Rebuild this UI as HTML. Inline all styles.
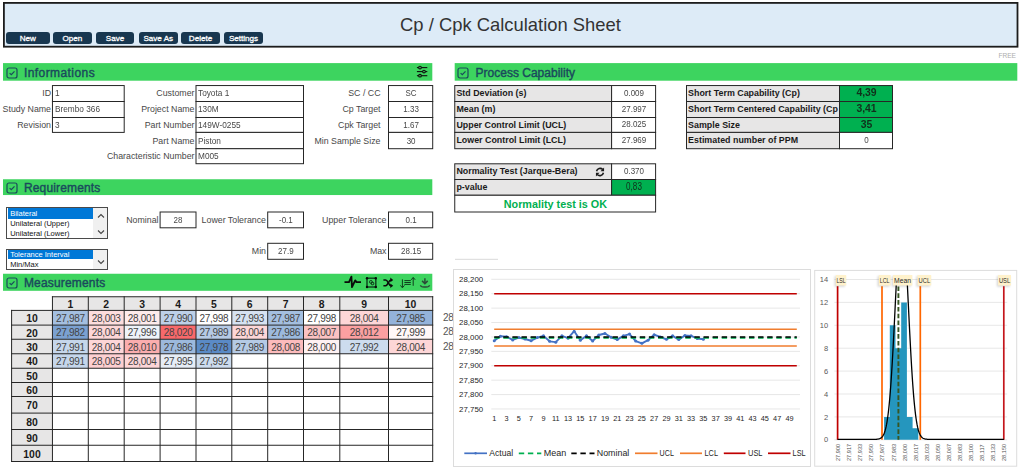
<!DOCTYPE html><html><head><meta charset="utf-8"><title>Cp / Cpk Calculation Sheet</title><style>
html,body{margin:0;padding:0;background:#fff;}
body{width:1024px;height:476px;position:relative;overflow:hidden;font-family:"Liberation Sans",sans-serif;font-size:8.8px;color:#484848;}
.a{position:absolute;box-sizing:border-box;white-space:nowrap;}
.bar{position:absolute;background:#3dd45f;}
.ttl{position:absolute;color:#1a4a5c;-webkit-text-stroke:0.4px #1a4a5c;white-space:nowrap;}
.lbl{position:absolute;text-align:right;white-space:nowrap;line-height:12px;height:12px;}
.box{position:absolute;box-sizing:border-box;border:1px solid #4a4a4a;background:#fff;}
.cell{position:absolute;white-space:nowrap;line-height:12px;height:12px;}
.btn{position:absolute;background:#183750;border-radius:3px;color:#fff;font-size:8.1px;-webkit-text-stroke:0.3px #fff;text-align:center;height:12.3px;line-height:13px;top:32px;}
.b{font-weight:bold;color:#1a1a1a;font-size:8.9px;overflow:hidden;}
.n{font-size:9.9px;text-align:center;transform:scaleX(0.81);}
.v{font-size:9.5px;transform:scaleX(0.87);transform-origin:0 50%;}
</style></head><body>
<svg class="a" style="left:0;top:0;" width="1024" height="52"><rect x="3.9" y="2.9" width="1013.6" height="43.8" fill="#ddebf7" stroke="#1c1c1c" stroke-width="1.8"/></svg>
<div class="a" style="left:400px;top:12.9px;width:221px;text-align:center;font-size:18.4px;line-height:24px;color:#333;">Cp / Cpk Calculation Sheet</div>
<div class="btn" style="left:5.5px;width:44.5px;">New</div>
<div class="btn" style="left:53.0px;width:38.6px;">Open</div>
<div class="btn" style="left:96.0px;width:38.0px;">Save</div>
<div class="btn" style="left:139.0px;width:38.5px;">Save As</div>
<div class="btn" style="left:181.0px;width:39.0px;">Delete</div>
<div class="btn" style="left:224.0px;width:39.0px;">Settings</div>
<div class="a" style="left:990px;top:50.6px;width:26px;text-align:right;font-size:6.6px;line-height:10px;color:#adadad;">FREE</div>
<svg class="a" style="left:0;top:0;" width="1024" height="476" viewBox="0 0 1024 476"><rect x="3.00" y="63.10" width="429.30" height="17.60" fill="#3dd45f"/>
<rect x="454.70" y="63.10" width="562.60" height="17.60" fill="#3dd45f"/>
<rect x="3.00" y="179.25" width="429.30" height="15.80" fill="#3dd45f"/>
<rect x="3.00" y="273.75" width="429.30" height="17.05" fill="#3dd45f"/>
<rect x="52.45" y="85.55" width="71.75" height="15.95" fill="#fff" stroke="#262626" stroke-width="1"/>
<rect x="52.45" y="101.50" width="71.75" height="16.00" fill="#fff" stroke="#262626" stroke-width="1"/>
<rect x="52.45" y="117.50" width="71.75" height="14.90" fill="#fff" stroke="#262626" stroke-width="1"/>
<rect x="196.00" y="85.55" width="107.50" height="15.95" fill="#fff" stroke="#262626" stroke-width="1"/>
<rect x="196.00" y="101.50" width="107.50" height="16.00" fill="#fff" stroke="#262626" stroke-width="1"/>
<rect x="196.00" y="117.50" width="107.50" height="14.90" fill="#fff" stroke="#262626" stroke-width="1"/>
<rect x="196.00" y="132.40" width="107.50" height="16.30" fill="#fff" stroke="#262626" stroke-width="1"/>
<rect x="196.00" y="148.70" width="107.50" height="15.00" fill="#fff" stroke="#262626" stroke-width="1"/>
<rect x="388.50" y="85.55" width="44.20" height="15.95" fill="#fff" stroke="#262626" stroke-width="1"/>
<rect x="388.50" y="101.50" width="44.20" height="16.00" fill="#fff" stroke="#262626" stroke-width="1"/>
<rect x="388.50" y="117.50" width="44.20" height="14.90" fill="#fff" stroke="#262626" stroke-width="1"/>
<rect x="388.50" y="132.40" width="44.20" height="16.30" fill="#fff" stroke="#262626" stroke-width="1"/>
<rect x="160.10" y="212.00" width="35.90" height="15.80" fill="#fff" stroke="#262626" stroke-width="1"/>
<rect x="267.70" y="212.00" width="35.80" height="15.80" fill="#fff" stroke="#262626" stroke-width="1"/>
<rect x="388.50" y="212.00" width="44.20" height="15.80" fill="#fff" stroke="#262626" stroke-width="1"/>
<rect x="267.70" y="243.30" width="35.80" height="16.00" fill="#fff" stroke="#262626" stroke-width="1"/>
<rect x="388.50" y="243.30" width="44.20" height="16.00" fill="#fff" stroke="#262626" stroke-width="1"/>
<rect x="52.45" y="296.75" width="380.25" height="13.65" fill="#e7e6e6"/>
<rect x="11.60" y="310.40" width="40.85" height="151.10" fill="#e7e6e6"/>
<rect x="52.45" y="310.40" width="35.85" height="14.70" fill="#a4bfe0"/>
<rect x="88.30" y="310.40" width="35.90" height="14.70" fill="#fddddd"/>
<rect x="124.20" y="310.40" width="35.90" height="14.70" fill="#feebeb"/>
<rect x="160.10" y="310.40" width="35.90" height="14.70" fill="#bdd0e8"/>
<rect x="196.00" y="310.40" width="35.80" height="14.70" fill="#ffffff"/>
<rect x="231.80" y="310.40" width="35.90" height="14.70" fill="#d6e2f1"/>
<rect x="267.70" y="310.40" width="35.80" height="14.70" fill="#a4bfe0"/>
<rect x="303.50" y="310.40" width="36.30" height="14.70" fill="#ffffff"/>
<rect x="339.80" y="310.40" width="48.70" height="14.70" fill="#fdd6d7"/>
<rect x="388.50" y="310.40" width="44.20" height="14.70" fill="#94b3da"/>
<rect x="52.45" y="325.10" width="35.85" height="14.15" fill="#7ba1d1"/>
<rect x="88.30" y="325.10" width="35.90" height="14.15" fill="#fdd6d7"/>
<rect x="124.20" y="325.10" width="35.90" height="14.15" fill="#eef3f9"/>
<rect x="160.10" y="325.10" width="35.90" height="14.15" fill="#f8696b"/>
<rect x="196.00" y="325.10" width="35.80" height="14.15" fill="#b5cae5"/>
<rect x="231.80" y="325.10" width="35.90" height="14.15" fill="#fdd6d7"/>
<rect x="267.70" y="325.10" width="35.80" height="14.15" fill="#9cb9dd"/>
<rect x="303.50" y="325.10" width="36.30" height="14.15" fill="#fcc2c2"/>
<rect x="339.80" y="325.10" width="48.70" height="14.15" fill="#fba0a1"/>
<rect x="388.50" y="325.10" width="44.20" height="14.15" fill="#fff8f8"/>
<rect x="52.45" y="339.25" width="35.85" height="14.50" fill="#c5d6eb"/>
<rect x="88.30" y="339.25" width="35.90" height="14.50" fill="#fdd6d7"/>
<rect x="124.20" y="339.25" width="35.90" height="14.50" fill="#fbadae"/>
<rect x="160.10" y="339.25" width="35.90" height="14.50" fill="#9cb9dd"/>
<rect x="196.00" y="339.25" width="35.80" height="14.50" fill="#5a8ac6"/>
<rect x="231.80" y="339.25" width="35.90" height="14.50" fill="#b5cae5"/>
<rect x="267.70" y="339.25" width="35.80" height="14.50" fill="#fcbbbc"/>
<rect x="303.50" y="339.25" width="36.30" height="14.50" fill="#fef1f2"/>
<rect x="339.80" y="339.25" width="48.70" height="14.50" fill="#cddcee"/>
<rect x="388.50" y="339.25" width="44.20" height="14.50" fill="#fdd6d7"/>
<rect x="52.45" y="353.75" width="35.85" height="14.50" fill="#c5d6eb"/>
<rect x="88.30" y="353.75" width="35.90" height="14.50" fill="#fdcfd0"/>
<rect x="124.20" y="353.75" width="35.90" height="14.50" fill="#fdd6d7"/>
<rect x="160.10" y="353.75" width="35.90" height="14.50" fill="#e6edf6"/>
<rect x="196.00" y="353.75" width="35.80" height="14.50" fill="#cddcee"/>
<path d="M51.95 296.75 H433.20 M11.10 310.40 H433.20 M11.10 325.10 H433.20 M11.10 339.25 H433.20 M11.10 353.75 H433.20 M11.10 368.25 H433.20 M11.10 382.50 H433.20 M11.10 396.50 H433.20 M11.10 413.10 H433.20 M11.10 429.50 H433.20 M11.10 445.25 H433.20 M11.10 461.50 H433.20 M11.60 309.90 V462.00 M52.45 296.25 V462.00 M88.30 296.25 V462.00 M124.20 296.25 V462.00 M160.10 296.25 V462.00 M196.00 296.25 V462.00 M231.80 296.25 V462.00 M267.70 296.25 V462.00 M303.50 296.25 V462.00 M339.80 296.25 V462.00 M388.50 296.25 V462.00 M432.70 296.25 V462.00 " fill="none" stroke="#262626" stroke-width="1"/>
<rect x="454.75" y="85.55" width="156.85" height="15.95" fill="#e7e6e6" stroke="#262626" stroke-width="1"/>
<rect x="611.60" y="85.55" width="44.00" height="15.95" fill="#fff" stroke="#262626" stroke-width="1"/>
<rect x="454.75" y="101.50" width="156.85" height="16.00" fill="#e7e6e6" stroke="#262626" stroke-width="1"/>
<rect x="611.60" y="101.50" width="44.00" height="16.00" fill="#fff" stroke="#262626" stroke-width="1"/>
<rect x="454.75" y="117.50" width="156.85" height="14.90" fill="#e7e6e6" stroke="#262626" stroke-width="1"/>
<rect x="611.60" y="117.50" width="44.00" height="14.90" fill="#fff" stroke="#262626" stroke-width="1"/>
<rect x="454.75" y="132.40" width="156.85" height="16.30" fill="#e7e6e6" stroke="#262626" stroke-width="1"/>
<rect x="611.60" y="132.40" width="44.00" height="16.30" fill="#fff" stroke="#262626" stroke-width="1"/>
<rect x="686.50" y="85.55" width="153.00" height="15.95" fill="#e7e6e6" stroke="#262626" stroke-width="1"/>
<rect x="839.50" y="85.55" width="53.00" height="15.95" fill="#00b050" stroke="#262626" stroke-width="1"/>
<rect x="686.50" y="101.50" width="153.00" height="16.00" fill="#e7e6e6" stroke="#262626" stroke-width="1"/>
<rect x="839.50" y="101.50" width="53.00" height="16.00" fill="#00b050" stroke="#262626" stroke-width="1"/>
<rect x="686.50" y="117.50" width="153.00" height="14.90" fill="#e7e6e6" stroke="#262626" stroke-width="1"/>
<rect x="839.50" y="117.50" width="53.00" height="14.90" fill="#00b050" stroke="#262626" stroke-width="1"/>
<rect x="686.50" y="132.40" width="153.00" height="16.30" fill="#e7e6e6" stroke="#262626" stroke-width="1"/>
<rect x="839.50" y="132.40" width="53.00" height="16.30" fill="#fff" stroke="#262626" stroke-width="1"/>
<rect x="454.75" y="163.80" width="156.85" height="15.70" fill="#e7e6e6" stroke="#262626" stroke-width="1"/>
<rect x="611.60" y="163.80" width="44.00" height="15.70" fill="#fff" stroke="#262626" stroke-width="1"/>
<rect x="454.75" y="179.50" width="156.85" height="15.75" fill="#e7e6e6" stroke="#262626" stroke-width="1"/>
<rect x="611.60" y="179.50" width="44.00" height="15.75" fill="#00b050" stroke="#262626" stroke-width="1"/>
<rect x="454.75" y="195.25" width="200.85" height="16.75" fill="#fff" stroke="#262626" stroke-width="1"/>
<line x1="455" x2="498" y1="259.3" y2="259.3" stroke="#d9d9d9" stroke-width="1"/></svg>
<svg class="a" style="left:5.7px;top:66.7px;" width="12" height="12" viewBox="0 0 12 12"><rect x="1" y="1" width="10" height="10" rx="2" fill="none" stroke="#1a4a5c" stroke-width="1.2"/><path d="M3.6 6.1 L5.3 7.7 L8.5 4.3" fill="none" stroke="#1a4a5c" stroke-width="1.2"/></svg>
<div class="ttl" style="left:23.9px;top:64.0px;height:17.6px;line-height:18.1px;font-size:12px;letter-spacing:0.43px;">Informations</div>
<svg class="a" style="left:457.4px;top:66.7px;" width="12" height="12" viewBox="0 0 12 12"><rect x="1" y="1" width="10" height="10" rx="2" fill="none" stroke="#1a4a5c" stroke-width="1.2"/><path d="M3.6 6.1 L5.3 7.7 L8.5 4.3" fill="none" stroke="#1a4a5c" stroke-width="1.2"/></svg>
<div class="ttl" style="left:475.6px;top:64.0px;height:17.6px;line-height:18.1px;font-size:12px;letter-spacing:0.00px;">Process Capability</div>
<svg class="a" style="left:5.7px;top:182.0px;" width="12" height="12" viewBox="0 0 12 12"><rect x="1" y="1" width="10" height="10" rx="2" fill="none" stroke="#1a4a5c" stroke-width="1.2"/><path d="M3.6 6.1 L5.3 7.7 L8.5 4.3" fill="none" stroke="#1a4a5c" stroke-width="1.2"/></svg>
<div class="ttl" style="left:23.9px;top:180.2px;height:15.8px;line-height:16.3px;font-size:12px;letter-spacing:0.16px;">Requirements</div>
<svg class="a" style="left:5.7px;top:277.1px;" width="12" height="12" viewBox="0 0 12 12"><rect x="1" y="1" width="10" height="10" rx="2" fill="none" stroke="#1a4a5c" stroke-width="1.2"/><path d="M3.6 6.1 L5.3 7.7 L8.5 4.3" fill="none" stroke="#1a4a5c" stroke-width="1.2"/></svg>
<div class="ttl" style="left:23.9px;top:274.6px;height:17.1px;line-height:17.6px;font-size:12px;letter-spacing:0.18px;">Measurements</div>
<div class="lbl" style="left:-69.0px;width:120.0px;top:87.4px;">ID</div>
<div class="cell v" style="left:54.6px;top:87.4px;">1</div>
<div class="lbl" style="left:-69.0px;width:120.0px;top:103.4px;">Study Name</div>
<div class="cell v" style="left:54.6px;top:103.4px;">Brembo 366</div>
<div class="lbl" style="left:-69.0px;width:120.0px;top:118.9px;">Revision</div>
<div class="cell v" style="left:54.6px;top:118.9px;">3</div>
<div class="lbl" style="left:74.5px;width:120.0px;top:87.4px;">Customer</div>
<div class="cell v" style="left:198.4px;top:87.4px;">Toyota 1</div>
<div class="lbl" style="left:74.5px;width:120.0px;top:103.4px;">Project Name</div>
<div class="cell v" style="left:198.4px;top:103.4px;">130M</div>
<div class="lbl" style="left:74.5px;width:120.0px;top:118.9px;">Part Number</div>
<div class="cell v" style="left:198.4px;top:118.9px;">149W-0255</div>
<div class="lbl" style="left:74.5px;width:120.0px;top:134.5px;">Part Name</div>
<div class="cell v" style="left:198.4px;top:134.5px;">Piston</div>
<div class="lbl" style="left:74.5px;width:120.0px;top:150.1px;">Characteristic Number</div>
<div class="cell v" style="left:198.4px;top:150.1px;">M005</div>
<div class="lbl" style="left:260.5px;width:120.0px;top:87.4px;">SC / CC</div>
<div class="cell n" style="left:388.5px;width:44.2px;top:87.4px;">SC</div>
<div class="lbl" style="left:260.5px;width:120.0px;top:103.4px;">Cp Target</div>
<div class="cell n" style="left:388.5px;width:44.2px;top:103.4px;">1.33</div>
<div class="lbl" style="left:260.5px;width:120.0px;top:118.9px;">Cpk Target</div>
<div class="cell n" style="left:388.5px;width:44.2px;top:118.9px;">1.67</div>
<div class="lbl" style="left:260.5px;width:120.0px;top:134.5px;">Min Sample Size</div>
<div class="cell n" style="left:388.5px;width:44.2px;top:134.5px;">30</div>
<div class="lbl" style="left:38.5px;width:120.0px;top:213.8px;">Nominal</div>
<div class="cell n" style="left:160.1px;width:35.9px;top:213.8px;">28</div>
<div class="lbl" style="left:146.0px;width:120.0px;top:213.8px;">Lower Tolerance</div>
<div class="cell n" style="left:267.7px;width:35.8px;top:213.8px;">-0.1</div>
<div class="lbl" style="left:266.5px;width:120.0px;top:213.8px;">Upper Tolerance</div>
<div class="cell n" style="left:388.5px;width:44.2px;top:213.8px;">0.1</div>
<div class="lbl" style="left:146.0px;width:120.0px;top:245.2px;">Min</div>
<div class="cell n" style="left:267.7px;width:35.8px;top:245.2px;">27.9</div>
<div class="lbl" style="left:266.5px;width:120.0px;top:245.2px;">Max</div>
<div class="cell n" style="left:388.5px;width:44.2px;top:245.2px;">28.15</div>
<div class="box" style="left:6px;top:207px;width:102px;height:32.3px;"></div>
<div class="a" style="left:93.2px;top:208px;width:14px;height:30.3px;background:#f0f0f0;"></div>
<div class="a" style="left:7.5px;top:208.2px;width:85.5px;height:10.4px;background:#0078d7;"></div>
<div class="cell" style="left:10.2px;top:208.9px;font-size:7.5px;line-height:10px;height:10px;color:#111;color:#fff;">Bilateral</div>
<div class="cell" style="left:10.2px;top:218.8px;font-size:7.5px;line-height:10px;height:10px;color:#111;">Unilateral (Upper)</div>
<div class="cell" style="left:10.2px;top:228.5px;font-size:7.5px;line-height:10px;height:10px;color:#111;">Unilateral (Lower)</div>
<svg class="a" style="left:100.8px;top:215.7px;overflow:visible" width="1" height="1"><path d="M-3 1.5 L0 -1.5 L3 1.5" fill="none" stroke="#444" stroke-width="1.1"/></svg>
<svg class="a" style="left:100.8px;top:232.3px;overflow:visible" width="1" height="1"><path d="M-3 -1.5 L0 1.5 L3 -1.5" fill="none" stroke="#444" stroke-width="1.1"/></svg>
<div class="box" style="left:6px;top:249.2px;width:102px;height:21px;"></div>
<div class="a" style="left:93.2px;top:250.2px;width:14px;height:19px;background:#f0f0f0;"></div>
<div class="a" style="left:7.5px;top:250.4px;width:85.5px;height:8.8px;background:#0078d7;"></div>
<div class="cell" style="left:10.2px;top:250.4px;font-size:7.5px;line-height:10px;height:10px;color:#111;color:#fff;">Tolerance Interval</div>
<div class="cell" style="left:10.2px;top:259.7px;font-size:7.5px;line-height:10px;height:10px;color:#111;">Min/Max</div>
<svg class="a" style="left:100.8px;top:262.2px;overflow:visible" width="1" height="1"><path d="M-3 -1.5 L0 1.5 L3 -1.5" fill="none" stroke="#444" stroke-width="1.1"/></svg>
<div class="cell" style="left:52.45px;width:35.85px;top:298.97px;font-weight:bold;font-size:10.4px;color:#1a1a1a;text-align:center;">1</div>
<div class="cell" style="left:88.30px;width:35.90px;top:298.97px;font-weight:bold;font-size:10.4px;color:#1a1a1a;text-align:center;">2</div>
<div class="cell" style="left:124.20px;width:35.90px;top:298.97px;font-weight:bold;font-size:10.4px;color:#1a1a1a;text-align:center;">3</div>
<div class="cell" style="left:160.10px;width:35.90px;top:298.97px;font-weight:bold;font-size:10.4px;color:#1a1a1a;text-align:center;">4</div>
<div class="cell" style="left:196.00px;width:35.80px;top:298.97px;font-weight:bold;font-size:10.4px;color:#1a1a1a;text-align:center;">5</div>
<div class="cell" style="left:231.80px;width:35.90px;top:298.97px;font-weight:bold;font-size:10.4px;color:#1a1a1a;text-align:center;">6</div>
<div class="cell" style="left:267.70px;width:35.80px;top:298.97px;font-weight:bold;font-size:10.4px;color:#1a1a1a;text-align:center;">7</div>
<div class="cell" style="left:303.50px;width:36.30px;top:298.97px;font-weight:bold;font-size:10.4px;color:#1a1a1a;text-align:center;">8</div>
<div class="cell" style="left:339.80px;width:48.70px;top:298.97px;font-weight:bold;font-size:10.4px;color:#1a1a1a;text-align:center;">9</div>
<div class="cell" style="left:388.50px;width:44.20px;top:298.97px;font-weight:bold;font-size:10.4px;color:#1a1a1a;text-align:center;">10</div>
<div class="cell" style="left:11.60px;width:40.85px;top:313.15px;font-weight:bold;font-size:10.4px;color:#1a1a1a;text-align:center;">10</div>
<div class="cell" style="left:11.60px;width:40.85px;top:327.57px;font-weight:bold;font-size:10.4px;color:#1a1a1a;text-align:center;">20</div>
<div class="cell" style="left:11.60px;width:40.85px;top:341.90px;font-weight:bold;font-size:10.4px;color:#1a1a1a;text-align:center;">30</div>
<div class="cell" style="left:11.60px;width:40.85px;top:356.40px;font-weight:bold;font-size:10.4px;color:#1a1a1a;text-align:center;">40</div>
<div class="cell" style="left:11.60px;width:40.85px;top:370.77px;font-weight:bold;font-size:10.4px;color:#1a1a1a;text-align:center;">50</div>
<div class="cell" style="left:11.60px;width:40.85px;top:384.90px;font-weight:bold;font-size:10.4px;color:#1a1a1a;text-align:center;">60</div>
<div class="cell" style="left:11.60px;width:40.85px;top:400.20px;font-weight:bold;font-size:10.4px;color:#1a1a1a;text-align:center;">70</div>
<div class="cell" style="left:11.60px;width:40.85px;top:416.70px;font-weight:bold;font-size:10.4px;color:#1a1a1a;text-align:center;">80</div>
<div class="cell" style="left:11.60px;width:40.85px;top:432.77px;font-weight:bold;font-size:10.4px;color:#1a1a1a;text-align:center;">90</div>
<div class="cell" style="left:11.60px;width:40.85px;top:448.77px;font-weight:bold;font-size:10.4px;color:#1a1a1a;text-align:center;">100</div>
<div class="cell" style="left:52.45px;width:35.85px;text-align:center;top:312.85px;font-size:10px;letter-spacing:-0.3px;color:#444;">27,987</div>
<div class="cell" style="left:88.30px;width:35.90px;text-align:center;top:312.85px;font-size:10px;letter-spacing:-0.3px;color:#444;">28,003</div>
<div class="cell" style="left:124.20px;width:35.90px;text-align:center;top:312.85px;font-size:10px;letter-spacing:-0.3px;color:#444;">28,001</div>
<div class="cell" style="left:160.10px;width:35.90px;text-align:center;top:312.85px;font-size:10px;letter-spacing:-0.3px;color:#444;">27,990</div>
<div class="cell" style="left:196.00px;width:35.80px;text-align:center;top:312.85px;font-size:10px;letter-spacing:-0.3px;color:#444;">27,998</div>
<div class="cell" style="left:231.80px;width:35.90px;text-align:center;top:312.85px;font-size:10px;letter-spacing:-0.3px;color:#444;">27,993</div>
<div class="cell" style="left:267.70px;width:35.80px;text-align:center;top:312.85px;font-size:10px;letter-spacing:-0.3px;color:#444;">27,987</div>
<div class="cell" style="left:303.50px;width:36.30px;text-align:center;top:312.85px;font-size:10px;letter-spacing:-0.3px;color:#444;">27,998</div>
<div class="cell" style="left:339.80px;width:48.70px;text-align:center;top:312.85px;font-size:10px;letter-spacing:-0.3px;color:#444;">28,004</div>
<div class="cell" style="left:388.50px;width:44.20px;text-align:center;top:312.85px;font-size:10px;letter-spacing:-0.3px;color:#444;">27,985</div>
<div class="cell" style="left:52.45px;width:35.85px;text-align:center;top:327.28px;font-size:10px;letter-spacing:-0.3px;color:#444;">27,982</div>
<div class="cell" style="left:88.30px;width:35.90px;text-align:center;top:327.28px;font-size:10px;letter-spacing:-0.3px;color:#444;">28,004</div>
<div class="cell" style="left:124.20px;width:35.90px;text-align:center;top:327.28px;font-size:10px;letter-spacing:-0.3px;color:#444;">27,996</div>
<div class="cell" style="left:160.10px;width:35.90px;text-align:center;top:327.28px;font-size:10px;letter-spacing:-0.3px;color:#444;">28,020</div>
<div class="cell" style="left:196.00px;width:35.80px;text-align:center;top:327.28px;font-size:10px;letter-spacing:-0.3px;color:#444;">27,989</div>
<div class="cell" style="left:231.80px;width:35.90px;text-align:center;top:327.28px;font-size:10px;letter-spacing:-0.3px;color:#444;">28,004</div>
<div class="cell" style="left:267.70px;width:35.80px;text-align:center;top:327.28px;font-size:10px;letter-spacing:-0.3px;color:#444;">27,986</div>
<div class="cell" style="left:303.50px;width:36.30px;text-align:center;top:327.28px;font-size:10px;letter-spacing:-0.3px;color:#444;">28,007</div>
<div class="cell" style="left:339.80px;width:48.70px;text-align:center;top:327.28px;font-size:10px;letter-spacing:-0.3px;color:#444;">28,012</div>
<div class="cell" style="left:388.50px;width:44.20px;text-align:center;top:327.28px;font-size:10px;letter-spacing:-0.3px;color:#444;">27,999</div>
<div class="cell" style="left:52.45px;width:35.85px;text-align:center;top:341.60px;font-size:10px;letter-spacing:-0.3px;color:#444;">27,991</div>
<div class="cell" style="left:88.30px;width:35.90px;text-align:center;top:341.60px;font-size:10px;letter-spacing:-0.3px;color:#444;">28,004</div>
<div class="cell" style="left:124.20px;width:35.90px;text-align:center;top:341.60px;font-size:10px;letter-spacing:-0.3px;color:#444;">28,010</div>
<div class="cell" style="left:160.10px;width:35.90px;text-align:center;top:341.60px;font-size:10px;letter-spacing:-0.3px;color:#444;">27,986</div>
<div class="cell" style="left:196.00px;width:35.80px;text-align:center;top:341.60px;font-size:10px;letter-spacing:-0.3px;color:#444;">27,978</div>
<div class="cell" style="left:231.80px;width:35.90px;text-align:center;top:341.60px;font-size:10px;letter-spacing:-0.3px;color:#444;">27,989</div>
<div class="cell" style="left:267.70px;width:35.80px;text-align:center;top:341.60px;font-size:10px;letter-spacing:-0.3px;color:#444;">28,008</div>
<div class="cell" style="left:303.50px;width:36.30px;text-align:center;top:341.60px;font-size:10px;letter-spacing:-0.3px;color:#444;">28,000</div>
<div class="cell" style="left:339.80px;width:48.70px;text-align:center;top:341.60px;font-size:10px;letter-spacing:-0.3px;color:#444;">27,992</div>
<div class="cell" style="left:388.50px;width:44.20px;text-align:center;top:341.60px;font-size:10px;letter-spacing:-0.3px;color:#444;">28,004</div>
<div class="cell" style="left:52.45px;width:35.85px;text-align:center;top:356.10px;font-size:10px;letter-spacing:-0.3px;color:#444;">27,991</div>
<div class="cell" style="left:88.30px;width:35.90px;text-align:center;top:356.10px;font-size:10px;letter-spacing:-0.3px;color:#444;">28,005</div>
<div class="cell" style="left:124.20px;width:35.90px;text-align:center;top:356.10px;font-size:10px;letter-spacing:-0.3px;color:#444;">28,004</div>
<div class="cell" style="left:160.10px;width:35.90px;text-align:center;top:356.10px;font-size:10px;letter-spacing:-0.3px;color:#444;">27,995</div>
<div class="cell" style="left:196.00px;width:35.80px;text-align:center;top:356.10px;font-size:10px;letter-spacing:-0.3px;color:#444;">27,992</div>
<div class="cell" style="left:443px;top:311.7px;font-size:10px;letter-spacing:-0.3px;color:#555;">28</div>
<div class="cell" style="left:443px;top:326.4px;font-size:10px;letter-spacing:-0.3px;color:#555;">28</div>
<div class="cell" style="left:443px;top:340.7px;font-size:10px;letter-spacing:-0.3px;color:#555;">28</div>
<div class="cell b" style="left:456.4px;width:154.7px;top:87.1px;">Std Deviation (s)</div>
<div class="cell n" style="left:611.6px;width:44.0px;top:86.6px;">0.009</div>
<div class="cell b" style="left:456.4px;width:154.7px;top:103.1px;">Mean (m)</div>
<div class="cell n" style="left:611.6px;width:44.0px;top:102.6px;">27.997</div>
<div class="cell b" style="left:456.4px;width:154.7px;top:118.5px;">Upper Control Limit (UCL)</div>
<div class="cell n" style="left:611.6px;width:44.0px;top:118.0px;">28.025</div>
<div class="cell b" style="left:456.4px;width:154.7px;top:134.2px;">Lower Control Limit (LCL)</div>
<div class="cell n" style="left:611.6px;width:44.0px;top:133.7px;">27.969</div>
<div class="cell b" style="left:688.1px;width:150.8px;top:87.1px;">Short Term Capability (Cp)</div>
<div class="cell n" style="left:839.5px;width:53.0px;top:86.6px;font-weight:bold;color:#10301c;font-size:10px;margin-top:0.9px;transform:scaleX(1.04);">4,39</div>
<div class="cell b" style="left:688.1px;width:150.8px;top:103.1px;">Short Term Centered Capability (Cp</div>
<div class="cell n" style="left:839.5px;width:53.0px;top:102.6px;font-weight:bold;color:#10301c;font-size:10px;margin-top:0.9px;transform:scaleX(1.04);">3,41</div>
<div class="cell b" style="left:688.1px;width:150.8px;top:118.5px;">Sample Size</div>
<div class="cell n" style="left:839.5px;width:53.0px;top:118.0px;font-weight:bold;color:#10301c;font-size:10px;margin-top:0.9px;transform:scaleX(1.04);">35</div>
<div class="cell b" style="left:688.1px;width:150.8px;top:134.2px;">Estimated number of PPM</div>
<div class="cell n" style="left:839.5px;width:53.0px;top:133.7px;">0</div>
<div class="cell b" style="left:456.4px;width:154.7px;top:165.2px;">Normality Test (Jarque-Bera)</div>
<div class="cell n" style="left:611.6px;width:44.0px;top:164.8px;">0.370</div>
<div class="cell b" style="left:456.4px;width:154.7px;top:181.0px;">p-value</div>
<div class="cell n" style="left:611.6px;width:44.0px;top:180.5px;color:#10301c;font-size:10px;">0,83</div>
<div class="cell" style="left:454.75px;width:201.25px;text-align:center;top:197.5px;font-weight:bold;font-size:10.8px;color:#00b050;">Normality test is OK</div>
<svg class="a" style="left:595.4px;top:166.5px;" width="10" height="10" viewBox="0 0 11 11"><path d="M1.7 4.7 A4 4 0 0 1 8.5 2.8" fill="none" stroke="#1a1a1a" stroke-width="1.7"/><path d="M10 0.6 L10 4.6 L6 4.6 Z" fill="#1a1a1a"/><path d="M9.3 6.3 A4 4 0 0 1 2.5 8.2" fill="none" stroke="#1a1a1a" stroke-width="1.7"/><path d="M1 10.4 L1 6.4 L5 6.4 Z" fill="#1a1a1a"/></svg>
<div class="a" style="left:453px;top:269px;width:358.2px;height:197.7px;border:1px solid #dcdcdc;background:#fff;"></div>
<svg class="a" style="left:0;top:0;" width="1024" height="476" viewBox="0 0 1024 476" font-family="Liberation Sans, sans-serif">
<line x1="491.3" x2="800" y1="279.30" y2="279.30" stroke="#e4e4e4" stroke-width="0.9"/>
<text x="483.2" y="282.00" text-anchor="end" font-size="7.9" fill="#262626">28,200</text>
<line x1="491.3" x2="800" y1="293.71" y2="293.71" stroke="#e4e4e4" stroke-width="0.9"/>
<text x="483.2" y="296.41" text-anchor="end" font-size="7.9" fill="#262626">28,150</text>
<line x1="491.3" x2="800" y1="308.12" y2="308.12" stroke="#e4e4e4" stroke-width="0.9"/>
<text x="483.2" y="310.82" text-anchor="end" font-size="7.9" fill="#262626">28,100</text>
<line x1="491.3" x2="800" y1="322.53" y2="322.53" stroke="#e4e4e4" stroke-width="0.9"/>
<text x="483.2" y="325.23" text-anchor="end" font-size="7.9" fill="#262626">28,050</text>
<line x1="491.3" x2="800" y1="336.94" y2="336.94" stroke="#e4e4e4" stroke-width="0.9"/>
<text x="483.2" y="339.64" text-anchor="end" font-size="7.9" fill="#262626">28,000</text>
<line x1="491.3" x2="800" y1="351.35" y2="351.35" stroke="#e4e4e4" stroke-width="0.9"/>
<text x="483.2" y="354.05" text-anchor="end" font-size="7.9" fill="#262626">27,950</text>
<line x1="491.3" x2="800" y1="365.76" y2="365.76" stroke="#e4e4e4" stroke-width="0.9"/>
<text x="483.2" y="368.46" text-anchor="end" font-size="7.9" fill="#262626">27,900</text>
<line x1="491.3" x2="800" y1="380.17" y2="380.17" stroke="#e4e4e4" stroke-width="0.9"/>
<text x="483.2" y="382.87" text-anchor="end" font-size="7.9" fill="#262626">27,850</text>
<line x1="491.3" x2="800" y1="394.58" y2="394.58" stroke="#e4e4e4" stroke-width="0.9"/>
<text x="483.2" y="397.28" text-anchor="end" font-size="7.9" fill="#262626">27,800</text>
<line x1="491.3" x2="800" y1="408.99" y2="408.99" stroke="#e4e4e4" stroke-width="0.9"/>
<text x="483.2" y="411.69" text-anchor="end" font-size="7.9" fill="#262626">27,750</text>
<text x="494.25" y="421.1" text-anchor="middle" font-size="7.3" fill="#262626">1</text>
<text x="506.55" y="421.1" text-anchor="middle" font-size="7.3" fill="#262626">3</text>
<text x="518.85" y="421.1" text-anchor="middle" font-size="7.3" fill="#262626">5</text>
<text x="531.15" y="421.1" text-anchor="middle" font-size="7.3" fill="#262626">7</text>
<text x="543.45" y="421.1" text-anchor="middle" font-size="7.3" fill="#262626">9</text>
<text x="555.75" y="421.1" text-anchor="middle" font-size="7.3" fill="#262626">11</text>
<text x="568.05" y="421.1" text-anchor="middle" font-size="7.3" fill="#262626">13</text>
<text x="580.35" y="421.1" text-anchor="middle" font-size="7.3" fill="#262626">15</text>
<text x="592.65" y="421.1" text-anchor="middle" font-size="7.3" fill="#262626">17</text>
<text x="604.95" y="421.1" text-anchor="middle" font-size="7.3" fill="#262626">19</text>
<text x="617.25" y="421.1" text-anchor="middle" font-size="7.3" fill="#262626">21</text>
<text x="629.55" y="421.1" text-anchor="middle" font-size="7.3" fill="#262626">23</text>
<text x="641.85" y="421.1" text-anchor="middle" font-size="7.3" fill="#262626">25</text>
<text x="654.15" y="421.1" text-anchor="middle" font-size="7.3" fill="#262626">27</text>
<text x="666.45" y="421.1" text-anchor="middle" font-size="7.3" fill="#262626">29</text>
<text x="678.75" y="421.1" text-anchor="middle" font-size="7.3" fill="#262626">31</text>
<text x="691.05" y="421.1" text-anchor="middle" font-size="7.3" fill="#262626">33</text>
<text x="703.35" y="421.1" text-anchor="middle" font-size="7.3" fill="#262626">35</text>
<text x="715.65" y="421.1" text-anchor="middle" font-size="7.3" fill="#262626">37</text>
<text x="727.95" y="421.1" text-anchor="middle" font-size="7.3" fill="#262626">39</text>
<text x="740.25" y="421.1" text-anchor="middle" font-size="7.3" fill="#262626">41</text>
<text x="752.55" y="421.1" text-anchor="middle" font-size="7.3" fill="#262626">43</text>
<text x="764.85" y="421.1" text-anchor="middle" font-size="7.3" fill="#262626">45</text>
<text x="777.15" y="421.1" text-anchor="middle" font-size="7.3" fill="#262626">47</text>
<text x="789.45" y="421.1" text-anchor="middle" font-size="7.3" fill="#262626">49</text>
<polyline points="494.25,340.74 500.40,336.14 506.55,336.71 512.70,339.88 518.85,337.58 525.00,339.02 531.15,340.74 537.30,337.58 543.45,335.85 549.60,341.32 555.75,342.18 561.90,335.85 568.05,338.15 574.20,331.24 580.35,340.17 586.50,335.85 592.65,341.03 598.80,334.98 604.95,333.54 611.10,337.29 617.25,339.59 623.40,335.85 629.55,334.12 635.70,341.03 641.85,343.34 648.00,340.17 654.15,334.70 660.30,337.00 666.45,339.30 672.60,335.85 678.75,339.59 684.90,335.56 691.05,335.85 697.20,338.44 703.35,339.30" fill="none" stroke="#4472c4" stroke-width="1.9" stroke-linejoin="round" stroke-linecap="round"/>
<circle cx="494.25" cy="340.74" r="1.5" fill="#4472c4"/>
<circle cx="500.40" cy="336.14" r="1.5" fill="#4472c4"/>
<circle cx="506.55" cy="336.71" r="1.5" fill="#4472c4"/>
<circle cx="512.70" cy="339.88" r="1.5" fill="#4472c4"/>
<circle cx="518.85" cy="337.58" r="1.5" fill="#4472c4"/>
<circle cx="525.00" cy="339.02" r="1.5" fill="#4472c4"/>
<circle cx="531.15" cy="340.74" r="1.5" fill="#4472c4"/>
<circle cx="537.30" cy="337.58" r="1.5" fill="#4472c4"/>
<circle cx="543.45" cy="335.85" r="1.5" fill="#4472c4"/>
<circle cx="549.60" cy="341.32" r="1.5" fill="#4472c4"/>
<circle cx="555.75" cy="342.18" r="1.5" fill="#4472c4"/>
<circle cx="561.90" cy="335.85" r="1.5" fill="#4472c4"/>
<circle cx="568.05" cy="338.15" r="1.5" fill="#4472c4"/>
<circle cx="574.20" cy="331.24" r="1.5" fill="#4472c4"/>
<circle cx="580.35" cy="340.17" r="1.5" fill="#4472c4"/>
<circle cx="586.50" cy="335.85" r="1.5" fill="#4472c4"/>
<circle cx="592.65" cy="341.03" r="1.5" fill="#4472c4"/>
<circle cx="598.80" cy="334.98" r="1.5" fill="#4472c4"/>
<circle cx="604.95" cy="333.54" r="1.5" fill="#4472c4"/>
<circle cx="611.10" cy="337.29" r="1.5" fill="#4472c4"/>
<circle cx="617.25" cy="339.59" r="1.5" fill="#4472c4"/>
<circle cx="623.40" cy="335.85" r="1.5" fill="#4472c4"/>
<circle cx="629.55" cy="334.12" r="1.5" fill="#4472c4"/>
<circle cx="635.70" cy="341.03" r="1.5" fill="#4472c4"/>
<circle cx="641.85" cy="343.34" r="1.5" fill="#4472c4"/>
<circle cx="648.00" cy="340.17" r="1.5" fill="#4472c4"/>
<circle cx="654.15" cy="334.70" r="1.5" fill="#4472c4"/>
<circle cx="660.30" cy="337.00" r="1.5" fill="#4472c4"/>
<circle cx="666.45" cy="339.30" r="1.5" fill="#4472c4"/>
<circle cx="672.60" cy="335.85" r="1.5" fill="#4472c4"/>
<circle cx="678.75" cy="339.59" r="1.5" fill="#4472c4"/>
<circle cx="684.90" cy="335.56" r="1.5" fill="#4472c4"/>
<circle cx="691.05" cy="335.85" r="1.5" fill="#4472c4"/>
<circle cx="697.20" cy="338.44" r="1.5" fill="#4472c4"/>
<circle cx="703.35" cy="339.30" r="1.5" fill="#4472c4"/>
<line x1="494.2" x2="796.8" y1="337.86" y2="337.86" stroke="#00b050" stroke-width="1.7" stroke-dasharray="5.4 3.7"/>
<line x1="494.2" x2="796.8" y1="337.00" y2="337.00" stroke="#000" stroke-width="1.7" stroke-dasharray="5.4 3.7"/>
<line x1="494.2" x2="796.8" y1="329.20" y2="329.20" stroke="#f07d2e" stroke-width="1.4"/>
<line x1="494.2" x2="796.8" y1="346.00" y2="346.00" stroke="#f07d2e" stroke-width="1.4"/>
<line x1="494.2" x2="796.8" y1="293.70" y2="293.70" stroke="#c00000" stroke-width="1.4"/>
<line x1="494.2" x2="796.8" y1="365.80" y2="365.80" stroke="#c00000" stroke-width="1.4"/>
<line x1="464.3" x2="487.0" y1="453.3" y2="453.3" stroke="#4472c4" stroke-width="1.7"/>
<circle cx="475.6" cy="453.3" r="1.2" fill="#4472c4"/>
<text x="489.3" y="456.3" font-size="8.8" textLength="23.75" lengthAdjust="spacingAndGlyphs" fill="#262626">Actual</text>
<line x1="518.8" x2="541.3" y1="453.3" y2="453.3" stroke="#00b050" stroke-width="1.7" stroke-dasharray="5.4 3.7"/>
<text x="543.8" y="456.3" font-size="8.8" textLength="22.50" lengthAdjust="spacingAndGlyphs" fill="#262626">Mean</text>
<line x1="571.3" x2="594.5" y1="453.3" y2="453.3" stroke="#000" stroke-width="1.7" stroke-dasharray="5.4 3.7"/>
<text x="596.8" y="456.3" font-size="8.8" textLength="32.50" lengthAdjust="spacingAndGlyphs" fill="#262626">Nominal</text>
<line x1="635.0" x2="657.5" y1="453.3" y2="453.3" stroke="#f07d2e" stroke-width="1.7"/>
<text x="659.6" y="456.3" font-size="8.8" textLength="14.25" lengthAdjust="spacingAndGlyphs" fill="#262626">UCL</text>
<line x1="680.0" x2="702.0" y1="453.3" y2="453.3" stroke="#f07d2e" stroke-width="1.7"/>
<text x="704.5" y="456.3" font-size="8.8" textLength="13.50" lengthAdjust="spacingAndGlyphs" fill="#262626">LCL</text>
<line x1="723.8" x2="745.5" y1="453.3" y2="453.3" stroke="#c00000" stroke-width="1.7"/>
<text x="748.0" y="456.3" font-size="8.8" textLength="14.50" lengthAdjust="spacingAndGlyphs" fill="#262626">USL</text>
<line x1="768.0" x2="790.5" y1="453.3" y2="453.3" stroke="#c00000" stroke-width="1.7"/>
<text x="792.6" y="456.3" font-size="8.8" textLength="13.00" lengthAdjust="spacingAndGlyphs" fill="#262626">LSL</text>
<rect x="814.7" y="270.4" width="202" height="195.8" fill="#fff" stroke="#dcdcdc" stroke-width="1"/>
<line x1="834.4" x2="1007.2" y1="439.80" y2="439.80" stroke="#e4e4e4" stroke-width="0.9"/>
<text x="828.2" y="442.40" text-anchor="end" font-size="7.5" fill="#595959">0</text>
<line x1="834.4" x2="1007.2" y1="416.90" y2="416.90" stroke="#e4e4e4" stroke-width="0.9"/>
<text x="828.2" y="419.50" text-anchor="end" font-size="7.5" fill="#595959">2</text>
<line x1="834.4" x2="1007.2" y1="394.00" y2="394.00" stroke="#e4e4e4" stroke-width="0.9"/>
<text x="828.2" y="396.60" text-anchor="end" font-size="7.5" fill="#595959">4</text>
<line x1="834.4" x2="1007.2" y1="371.10" y2="371.10" stroke="#e4e4e4" stroke-width="0.9"/>
<text x="828.2" y="373.70" text-anchor="end" font-size="7.5" fill="#595959">6</text>
<line x1="834.4" x2="1007.2" y1="348.20" y2="348.20" stroke="#e4e4e4" stroke-width="0.9"/>
<text x="828.2" y="350.80" text-anchor="end" font-size="7.5" fill="#595959">8</text>
<line x1="834.4" x2="1007.2" y1="325.30" y2="325.30" stroke="#e4e4e4" stroke-width="0.9"/>
<text x="828.2" y="327.90" text-anchor="end" font-size="7.5" fill="#595959">10</text>
<line x1="834.4" x2="1007.2" y1="302.40" y2="302.40" stroke="#e4e4e4" stroke-width="0.9"/>
<text x="828.2" y="305.00" text-anchor="end" font-size="7.5" fill="#595959">12</text>
<line x1="834.4" x2="1007.2" y1="279.50" y2="279.50" stroke="#e4e4e4" stroke-width="0.9"/>
<text x="828.2" y="282.10" text-anchor="end" font-size="7.5" fill="#595959">14</text>
<path d="M884.10 439.80 L884.10 416.90 L889.80 416.90 L889.80 325.30 L895.50 325.30 L895.50 348.20 L901.20 348.20 L901.20 302.40 L906.90 302.40 L906.90 416.90 L912.60 416.90 L912.60 428.35 L918.30 428.35 L918.30 439.80 Z" fill="#2596be"/>
<line x1="837.6" x2="837.6" y1="286.2" y2="439.8" stroke="#c00000" stroke-width="1.7"/>
<line x1="882.0" x2="882.0" y1="286.2" y2="439.8" stroke="#ff6600" stroke-width="1.7"/>
<line x1="920.3" x2="920.3" y1="286.2" y2="439.8" stroke="#ff6600" stroke-width="1.7"/>
<line x1="1003.8" x2="1003.8" y1="286.2" y2="439.8" stroke="#c4161c" stroke-width="1.7"/>
<line x1="898.4" x2="898.4" y1="286.5" y2="439.8" stroke="#375623" stroke-width="1.9" stroke-dasharray="4.6 2.2"/>
<clipPath id="c2"><rect x="834" y="279.6" width="175" height="162"/></clipPath>
<polyline clip-path="url(#c2)" points="837.60,439.40 841.60,439.40 845.60,439.40 849.60,439.40 853.60,439.40 857.60,439.40 861.60,439.40 865.60,439.40 869.60,439.40 873.60,439.38 874.10,439.37 874.60,439.36 875.10,439.34 875.60,439.32 876.10,439.29 876.60,439.26 877.10,439.21 877.60,439.15 878.10,439.07 878.60,438.97 879.10,438.83 879.60,438.67 880.10,438.45 880.60,438.19 881.10,437.86 881.60,437.44 882.10,436.93 882.60,436.31 883.10,435.55 883.60,434.64 884.10,433.53 884.60,432.22 885.10,430.66 885.60,428.83 886.10,426.68 886.60,424.19 887.10,421.32 887.60,418.02 888.10,414.27 888.60,410.04 889.10,405.28 889.60,399.99 890.10,394.14 890.60,387.72 891.10,380.73 891.60,373.18 892.10,365.09 892.60,356.50 893.10,347.44 893.60,337.98 894.10,328.20 894.60,318.18 895.10,308.02 895.60,297.83 896.10,287.72 896.60,277.84 897.10,268.31 897.60,259.25 898.10,250.82 898.60,243.13 899.10,236.31 899.60,230.46 900.10,225.69 900.60,222.07 901.10,219.67 901.60,218.52 902.10,218.65 902.60,220.05 903.10,222.70 903.60,226.55 904.10,231.55 904.60,237.60 905.10,244.60 905.60,252.45 906.10,261.02 906.60,270.18 907.10,279.79 907.60,289.73 908.10,299.86 908.60,310.06 909.10,320.20 909.60,330.18 910.10,339.90 910.60,349.29 911.10,358.25 911.60,366.75 912.10,374.74 912.60,382.17 913.10,389.05 913.60,395.36 914.10,401.09 914.60,406.28 915.10,410.92 915.60,415.06 916.10,418.72 916.60,421.92 917.10,424.72 917.60,427.14 918.10,429.22 918.60,431.00 919.10,432.50 919.60,433.77 920.10,434.83 920.60,435.72 921.10,436.45 921.60,437.04 922.10,437.53 922.60,437.93 923.10,438.25 923.60,438.50 924.10,438.70 924.60,438.86 925.10,438.99 925.60,439.09 926.10,439.16 926.60,439.22 927.10,439.27 927.60,439.30 928.10,439.33 928.60,439.35 929.10,439.36 929.60,439.37 930.10,439.38 930.60,439.39 931.10,439.39 931.60,439.39 932.10,439.39 936.10,439.40 940.10,439.40 944.10,439.40 948.10,439.40 952.10,439.40 956.10,439.40 960.10,439.40 964.10,439.40 968.10,439.40 972.10,439.40 976.10,439.40 980.10,439.40 984.10,439.40 988.10,439.40 992.10,439.40 996.10,439.40 1000.10,439.40 1003.9,439.40" fill="none" stroke="#000" stroke-width="1.3" stroke-linejoin="round"/>
<filter id="sh" x="-30%" y="-30%" width="160%" height="160%"><feGaussianBlur stdDeviation="1.1"/></filter>
<rect x="834.6" y="276.2" width="10.4" height="10.5" fill="#000" opacity="0.16" filter="url(#sh)"/>
<rect x="835.8" y="275" width="10.4" height="10.5" fill="#fff2cc"/>
<text x="836.4" y="283.4" font-size="7.6" textLength="9.2" lengthAdjust="spacingAndGlyphs" fill="#2a2a2a">LSL</text>
<rect x="877.6" y="276.2" width="11.8" height="10.5" fill="#000" opacity="0.16" filter="url(#sh)"/>
<rect x="878.8" y="275" width="11.8" height="10.5" fill="#fff2cc"/>
<text x="879.8" y="283.4" font-size="7.6" textLength="9.8" lengthAdjust="spacingAndGlyphs" fill="#2a2a2a">LCL</text>
<rect x="891.8" y="276.2" width="19.3" height="10.5" fill="#000" opacity="0.16" filter="url(#sh)"/>
<rect x="893.0" y="275" width="19.3" height="10.5" fill="#fff2cc"/>
<text x="894.1" y="283.4" font-size="7.6" textLength="17.0" lengthAdjust="spacingAndGlyphs" fill="#2a2a2a">Mean</text>
<rect x="916.3" y="276.2" width="13.7" height="10.5" fill="#000" opacity="0.16" filter="url(#sh)"/>
<rect x="917.5" y="275" width="13.7" height="10.5" fill="#fff2cc"/>
<text x="918.6" y="283.4" font-size="7.6" textLength="11.6" lengthAdjust="spacingAndGlyphs" fill="#2a2a2a">UCL</text>
<rect x="996.9" y="276.2" width="12.9" height="10.5" fill="#000" opacity="0.16" filter="url(#sh)"/>
<rect x="998.1" y="275" width="12.9" height="10.5" fill="#fff2cc"/>
<text x="998.9" y="283.4" font-size="7.6" textLength="11.2" lengthAdjust="spacingAndGlyphs" fill="#2a2a2a">USL</text>
<text transform="translate(840.10,461) rotate(-90)" font-size="5.6" fill="#505050">27,900</text>
<text transform="translate(851.19,461) rotate(-90)" font-size="5.6" fill="#505050">27,917</text>
<text transform="translate(862.28,461) rotate(-90)" font-size="5.6" fill="#505050">27,933</text>
<text transform="translate(873.37,461) rotate(-90)" font-size="5.6" fill="#505050">27,950</text>
<text transform="translate(884.46,461) rotate(-90)" font-size="5.6" fill="#505050">27,967</text>
<text transform="translate(895.55,461) rotate(-90)" font-size="5.6" fill="#505050">27,983</text>
<text transform="translate(906.64,461) rotate(-90)" font-size="5.6" fill="#505050">28,000</text>
<text transform="translate(917.73,461) rotate(-90)" font-size="5.6" fill="#505050">28,017</text>
<text transform="translate(928.82,461) rotate(-90)" font-size="5.6" fill="#505050">28,033</text>
<text transform="translate(939.91,461) rotate(-90)" font-size="5.6" fill="#505050">28,050</text>
<text transform="translate(951.00,461) rotate(-90)" font-size="5.6" fill="#505050">28,067</text>
<text transform="translate(962.09,461) rotate(-90)" font-size="5.6" fill="#505050">28,083</text>
<text transform="translate(973.18,461) rotate(-90)" font-size="5.6" fill="#505050">28,100</text>
<text transform="translate(984.27,461) rotate(-90)" font-size="5.6" fill="#505050">28,117</text>
<text transform="translate(995.36,461) rotate(-90)" font-size="5.6" fill="#505050">28,133</text>
<text transform="translate(1006.45,461) rotate(-90)" font-size="5.6" fill="#505050">28,150</text>
</svg>
<svg class="a" style="left:0;top:0;" width="1024" height="300" viewBox="0 0 1024 300">
<line x1="416.9" x2="427.3" y1="67.6" y2="67.6" stroke="#0d0d0d" stroke-width="1.1"/>
<circle cx="420.0" cy="67.6" r="1.35" fill="#3dd45f" stroke="#0d0d0d" stroke-width="1.1"/>
<line x1="416.9" x2="427.3" y1="71.6" y2="71.6" stroke="#0d0d0d" stroke-width="1.1"/>
<circle cx="424.0" cy="71.6" r="1.35" fill="#3dd45f" stroke="#0d0d0d" stroke-width="1.1"/>
<line x1="416.9" x2="427.3" y1="75.7" y2="75.7" stroke="#0d0d0d" stroke-width="1.1"/>
<circle cx="420.0" cy="75.7" r="1.35" fill="#3dd45f" stroke="#0d0d0d" stroke-width="1.1"/>
<path d="M344.5 282.1 L349 282.1 L351.4 276.6 L352 287.2 L355.2 280.4 L356.6 282.1 L361 282.1" fill="none" stroke="#0a0a0a" stroke-width="1.8" stroke-linejoin="round" stroke-linecap="butt"/>
<rect x="367" y="278.2" width="8.8" height="8.8" fill="none" stroke="#0e4a20" stroke-width="1.5"/>
<circle cx="367.0" cy="278.2" r="1.2" fill="#0a0a0a"/>
<circle cx="375.8" cy="278.2" r="1.2" fill="#0a0a0a"/>
<circle cx="367.0" cy="287.0" r="1.2" fill="#0a0a0a"/>
<circle cx="375.8" cy="287.0" r="1.2" fill="#0a0a0a"/>
<rect x="369.6" y="280.6" width="2.6" height="2.6" rx="0.8" fill="none" stroke="#0a2a12" stroke-width="0.9"/>
<rect x="371.2" y="282.2" width="2.6" height="2.6" rx="0.8" fill="none" stroke="#0a2a12" stroke-width="0.9"/>
<path d="M383.4 279.9 L385.6 279.9 C388 279.9 388.6 285.7 391 285.7 L391.4 285.7" fill="none" stroke="#0a0a0a" stroke-width="1.5"/>
<path d="M383.4 285.7 L385.6 285.7 C388 285.7 388.6 279.9 391 279.9 L391.4 279.9" fill="none" stroke="#0a0a0a" stroke-width="1.5"/>
<path d="M390.3 277.6 L393.2 279.9 L390.3 282.2 Z" fill="#0a0a0a"/>
<path d="M390.3 283.4 L393.2 285.7 L390.3 288 Z" fill="#0a0a0a"/>
<path d="M402.4 279.3 L402.4 287.4 M400.4 285.4 L402.4 287.8 L404.4 285.4" fill="none" stroke="#0f3d1c" stroke-width="1"/>
<line x1="404.4" x2="410.8" y1="280.6" y2="280.6" stroke="#0f3d1c" stroke-width="1"/>
<line x1="404.4" x2="410.8" y1="282.5" y2="282.5" stroke="#0f3d1c" stroke-width="1"/>
<line x1="404.4" x2="410.8" y1="284.4" y2="284.4" stroke="#0f3d1c" stroke-width="1"/>
<path d="M413.2 285.8 L413.2 277.8 M411.2 279.8 L413.2 277.4 L415.2 279.8" fill="none" stroke="#0f3d1c" stroke-width="1"/>
<path d="M424.9 278.3 L424.9 283.4 M422.1 280.9 L424.9 283.7 L427.7 280.9" fill="none" stroke="#2b4a38" stroke-width="1.5"/>
<path d="M420.5 285.2 C420.7 287.2 422 287 424.9 287 C427.8 287 429.3 287.2 429.5 285.2" fill="none" stroke="#2b4a38" stroke-width="1.4"/>
</svg>
</body></html>
